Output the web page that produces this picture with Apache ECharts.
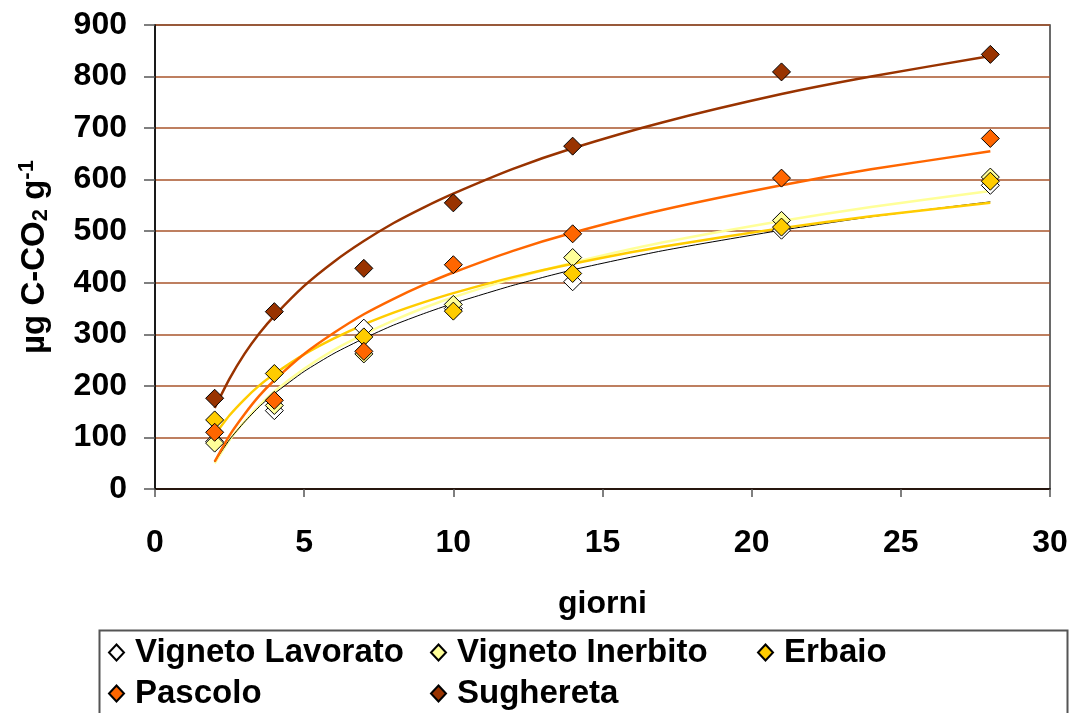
<!DOCTYPE html>
<html>
<head>
<meta charset="utf-8">
<script src="https://cdn.jsdelivr.net/npm/echarts@6/dist/echarts.min.js"></script>
<style>
  html, body { margin: 0; padding: 0; background: #fff; }
  #main { width: 1074px; height: 713px; }
</style>
</head>
<body>
<div id="main"></div>
<script>
// measured days
const days = [2, 4, 7, 10, 14, 21, 28];
const vignetoLavorato = [92, 152, 312, 350, 402, 502, 589];
const vignetoInerbito = [89, 162, 262, 358, 449, 521, 605];
const erbaio = [134, 224, 295, 345, 418, 508, 597];
const pascolo = [110, 172, 267, 435, 495, 603, 680];
const sughereta = [176, 344, 428, 555, 665, 809, 843];

// trend lines
const trendDays = [2, 2.5, 3, 3.5, 4, 5, 6, 7, 8, 9, 10, 12, 14, 17, 21, 24, 28];
const trendLavorato = [53, 96, 130, 160, 185, 228, 263, 292, 318, 340, 360, 395, 425, 462, 502, 528, 557];
const trendInerbito = [50, 95, 131, 162, 189, 233, 270, 300, 327, 351, 372, 408, 439, 478, 520, 547, 578];
const trendErbaio = [105, 143, 174, 201, 223, 261, 292, 319, 342, 362, 380, 411, 437, 470, 506, 529, 555];
const trendPascolo = [53, 104, 145, 181, 211, 262, 303, 339, 369, 396, 420, 462, 497, 541, 589, 620, 655];
const trendSughereta = [157, 214, 262, 302, 336, 394, 441, 481, 516, 546, 573, 621, 661, 711, 766, 800, 840];

const names = ['Vigneto Lavorato', 'Vigneto Inerbito', 'Erbaio', 'Pascolo', 'Sughereta'];
const fills = ['#FFFFFF', '#FFFF99', '#FFCC00', '#FF6600', '#993300'];
const lineColors = ['#000000', '#FFFF99', '#FFCC00', '#FF6600', '#993300'];
const points = [vignetoLavorato, vignetoInerbito, erbaio, pascolo, sughereta];
const trends = [trendLavorato, trendInerbito, trendErbaio, trendPascolo, trendSughereta];

const font = 'Liberation Sans, Arial, sans-serif';

let series = [];
// trend lines first (drawn under markers)
[1, 0, 2, 3, 4].forEach(i => {
    series.push({
        type: 'line',
        name: names[i] + ' trend',
        data: trendDays.map((d, k) => [d, trends[i][k]]),
        smooth: 0.2,
        symbol: 'none',
        silent: true,
        lineStyle: { color: lineColors[i], width: i === 0 ? 1 : 2.5 },
        z: 2
    });
});
names.forEach((n, i) => {
    series.push({
        type: 'scatter',
        name: n,
        data: days.map((d, k) => [d, points[i][k]]),
        symbol: 'diamond',
        symbolSize: 18,
        itemStyle: { color: fills[i], borderColor: '#000', borderWidth: 1, opacity: 1 },
        z: 3
    });
});

const legendPos = [
    { left: 108, top: 636 },
    { left: 430, top: 636 },
    { left: 757, top: 636 },
    { left: 108, top: 677 },
    { left: 430, top: 677 }
];

const chart = echarts.init(document.getElementById('main'));
chart.setOption({
    animation: false,
    grid: {
        left: 155, right: 24, top: 25, bottom: 224,
        show: true, borderColor: '#3a3a3a', borderWidth: 1.5
    },
    xAxis: {
        type: 'value', min: 0, max: 30, interval: 5,
        name: 'giorni', nameLocation: 'middle', nameGap: 99,
        nameTextStyle: { fontFamily: font, fontWeight: 'bold', fontSize: 32, color: '#000' },
        axisLine: { lineStyle: { color: '#000', width: 1.5 } },
        axisTick: { show: true, length: 8, lineStyle: { color: '#555', width: 1.5 } },
        axisLabel: { margin: 38, fontFamily: font, fontWeight: 'bold', fontSize: 32, color: '#000' },
        splitLine: { show: false }
    },
    yAxis: {
        type: 'value', min: 0, max: 900, interval: 100,
        name: 'µg C-CO{sub|2} g{sup|-1}', nameLocation: 'middle', nameGap: 102, nameRotate: 90,
        nameTextStyle: {
            fontFamily: font, fontWeight: 'bold', fontSize: 33, color: '#000',
            rich: {
                sub: { fontFamily: font, fontWeight: 'bold', fontSize: 22, color: '#000', padding: [13, 0, 0, 0] },
                sup: { fontFamily: font, fontWeight: 'bold', fontSize: 22, color: '#000', padding: [0, 0, 15, 0] }
            }
        },
        axisLine: { show: true, lineStyle: { color: '#000', width: 1.5 } },
        axisTick: { show: true, length: 11, inside: false, lineStyle: { color: '#555', width: 1.5 } },
        axisLabel: { margin: 28, fontFamily: font, fontWeight: 'bold', fontSize: 32, color: '#000' },
        splitLine: { show: true, lineStyle: { color: '#A9552B', width: 1.5 } }
    },
    legend: names.map((n, i) => ({
        data: [n],
        left: legendPos[i].left,
        top: legendPos[i].top,
        icon: 'diamond',
        itemWidth: 15,
        itemHeight: 16,
        itemGap: 0,
        padding: 0,
        selectedMode: false,
        textStyle: { fontFamily: font, fontWeight: 'bold', fontSize: 33, color: '#000', padding: [0, 0, 0, 6] }
    })),
    graphic: [{
        type: 'rect',
        left: 97, top: 628,
        shape: { width: 968, height: 120 },
        style: { fill: 'none', stroke: '#555', lineWidth: 2 },
        silent: true,
        z: -1
    }],
    series: series
});
</script>
</body>
</html>
